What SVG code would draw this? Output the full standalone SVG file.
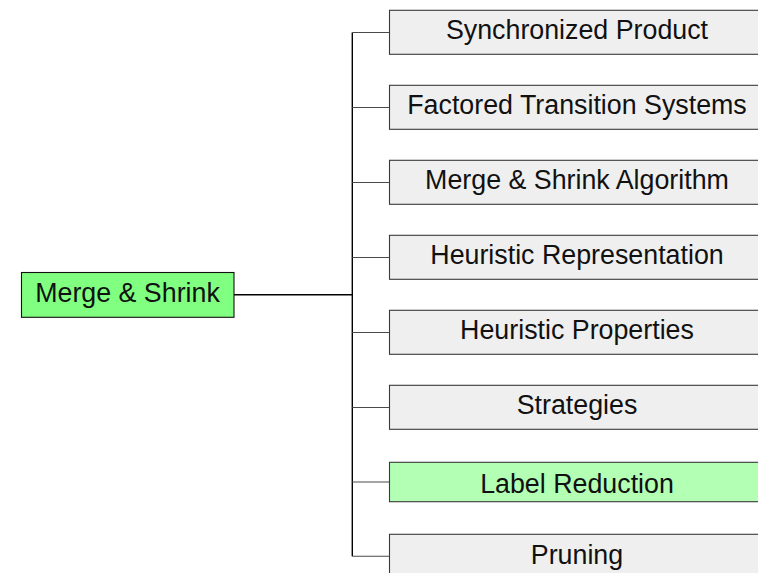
<svg xmlns="http://www.w3.org/2000/svg" width="758" height="573" viewBox="0 0 758 573">
  <style>
    .lbl { font-family: "Liberation Sans", Arial, sans-serif; font-size: 26.8px; fill: #111; text-anchor: middle; }
    .topic { fill: #efefef; stroke: #3a3a3a; stroke-width: 1.1; }
    .hl { fill: #b3ffb3; stroke: #3a3a3a; stroke-width: 1.1; }
    .root { fill: #80ff80; stroke: #111; stroke-width: 1.1; }
    .branch { stroke: #4a4a4a; stroke-width: 1.1; fill: none; }
    .trunk { stroke: #000; stroke-width: 1.4; fill: none; }
  </style>

  <!-- connectors -->
  <g id="connectors">
    <line class="trunk" x1="234" y1="294.8" x2="352.3" y2="294.8"/>
    <line class="trunk" x1="352.3" y1="32.5" x2="352.3" y2="556.3"/>
    <line class="branch" x1="352.3" y1="32.5" x2="389.5" y2="32.5"/>
    <line class="branch" x1="352.3" y1="107.5" x2="389.5" y2="107.5"/>
    <line class="branch" x1="352.3" y1="182.5" x2="389.5" y2="182.5"/>
    <line class="branch" x1="352.3" y1="257.5" x2="389.5" y2="257.5"/>
    <line class="branch" x1="352.3" y1="332.5" x2="389.5" y2="332.5"/>
    <line class="branch" x1="352.3" y1="407.5" x2="389.5" y2="407.5"/>
    <line class="branch" x1="352.3" y1="482" x2="389.5" y2="482"/>
    <line class="branch" x1="352.3" y1="556.3" x2="389.5" y2="556.3"/>
  </g>

  <!-- root node -->
  <g id="merge-and-shrink">
    <rect class="root" x="21.5" y="272.5" width="212.5" height="44.8"/>
    <text class="lbl" x="127.5" y="301.7">Merge &amp; Shrink</text>
  </g>

  <!-- child topics -->
  <g id="synchronized-product">
    <rect class="topic" x="389.5" y="10.3" width="390" height="44"/>
    <text class="lbl" x="577" y="39.3">Synchronized Product</text>
  </g>
  <g id="factored-transition-systems">
    <rect class="topic" x="389.5" y="85.3" width="390" height="44"/>
    <text class="lbl" x="577" y="114.3">Factored Transition Systems</text>
  </g>
  <g id="merge-and-shrink-algorithm">
    <rect class="topic" x="389.5" y="160.3" width="390" height="44"/>
    <text class="lbl" x="577" y="189.3">Merge &amp; Shrink Algorithm</text>
  </g>
  <g id="heuristic-representation">
    <rect class="topic" x="389.5" y="235.3" width="390" height="44"/>
    <text class="lbl" x="577" y="264.3">Heuristic Representation</text>
  </g>
  <g id="heuristic-properties">
    <rect class="topic" x="389.5" y="310.3" width="390" height="44"/>
    <text class="lbl" x="577" y="339.3">Heuristic Properties</text>
  </g>
  <g id="strategies">
    <rect class="topic" x="389.5" y="385.3" width="390" height="44"/>
    <text class="lbl" x="577" y="414.3">Strategies</text>
  </g>
  <g id="label-reduction">
    <rect class="hl" x="389.5" y="462.3" width="390" height="39.4"/>
    <text class="lbl" x="577" y="492.7">Label Reduction</text>
  </g>
  <g id="pruning">
    <rect class="topic" x="389.5" y="534.3" width="390" height="44"/>
    <text class="lbl" x="577" y="563.6">Pruning</text>
  </g>
</svg>
